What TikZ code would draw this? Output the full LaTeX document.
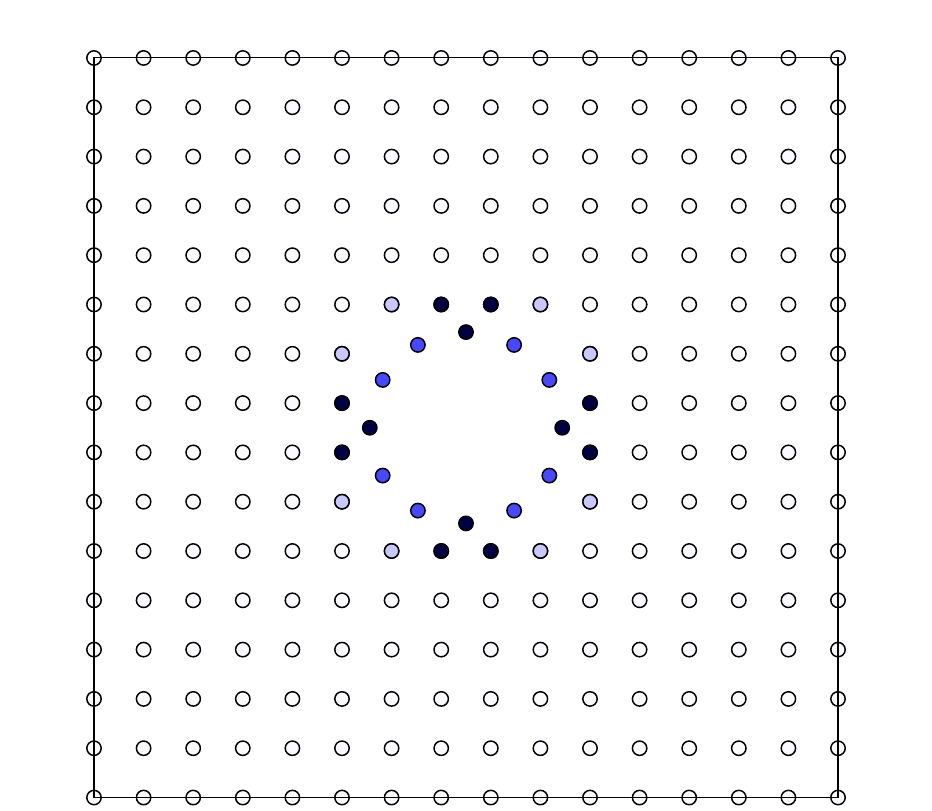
\documentclass[tikz,border=0pt]{standalone}
\definecolor{siteempty}{RGB}{250,250,255}
\definecolor{sitelight}{RGB}{200,200,255}
\definecolor{sitemid}{RGB}{72,72,255}
\definecolor{sitedark}{RGB}{0,0,66}
\tikzset{site/.style={circle,draw,line width=0.85pt,minimum size=0.29cm,inner sep=0pt,fill=siteempty}}
\begin{document}
\begin{tikzpicture}[x=1cm,y=0.994cm]
\useasboundingbox (-1.895,-0.264) rectangle (16.895,16.176);
% lattice sites, hole in the middle left empty
\foreach \i in {0,...,15}
  \foreach \j in {0,...,15} {
    \pgfmathparse{(\i>5)&&(\i<10)&&(\j>5)&&(\j<10)}
    \ifnum\pgfmathresult=0
      \node[site] (s-\i-\j) at (\i,\j) {};
    \fi
  }
\foreach \i/\j in {6/10,9/10,5/9,10/9,5/6,10/6,6/5,9/5}
  \node[site,fill=sitelight] (s-\i-\j) at (\i,\j) {};
\foreach \i/\j in {7/10,8/10,5/8,5/7,10/8,10/7,7/5,8/5}
  \node[site,fill=sitedark] (s-\i-\j) at (\i,\j) {};
% ring
\foreach \a in {30,60,120,150,210,240,300,330}
  \node[site,fill=sitemid] (r-\a) at ([shift={(\a:1.94)}]7.5,7.5) {};
\foreach \a in {0,90,180,270}
  \node[site,fill=sitedark] (r-\a) at ([shift={(\a:1.94)}]7.5,7.5) {};
\draw[line width=0.6pt] (s-0-0.center) rectangle (s-15-15.center);
\end{tikzpicture}
\end{document}
